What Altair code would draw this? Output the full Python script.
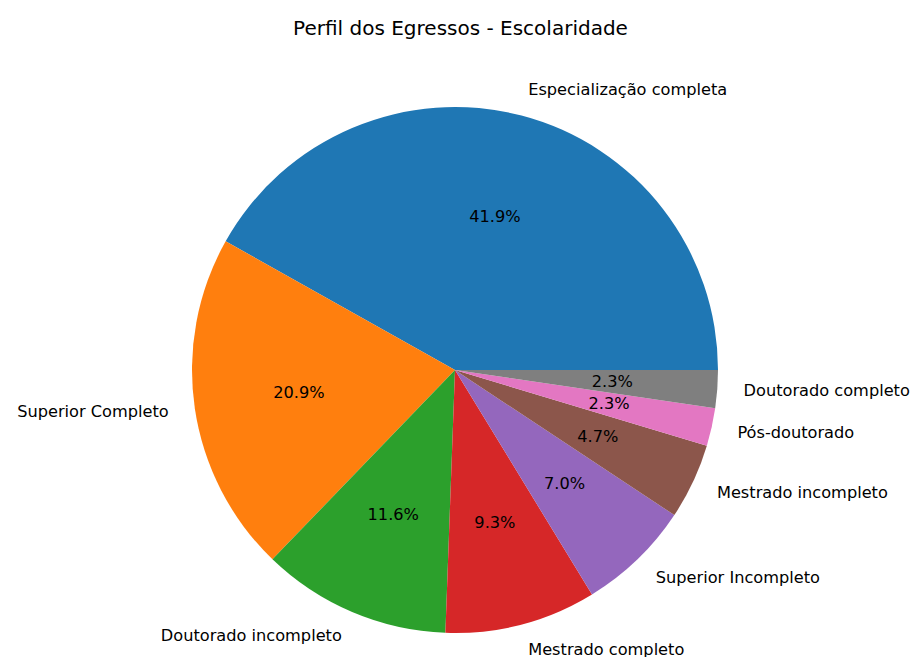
import math
import altair as alt
import pandas as pd

categorias = [
    "Especialização completa",
    "Superior Completo",
    "Doutorado incompleto",
    "Mestrado completo",
    "Superior Incompleto",
    "Mestrado incompleto",
    "Pós-doutorado",
    "Doutorado completo",
]
contagens = [18, 9, 5, 4, 3, 2, 1, 1]
cores = ["#1f77b4", "#ff7f0e", "#2ca02c", "#d62728",
         "#9467bd", "#8c564b", "#e377c2", "#7f7f7f"]

df = pd.DataFrame({"categoria": categorias, "n": contagens,
                   "ordem": list(range(len(categorias)))})

R = 263
CX, CY = 447, 362
FONT = "DejaVu Sans"
FS = 16.2

base = (
    alt.Chart(df)
    .transform_window(cum="sum(n)", sort=[alt.SortField("ordem")])
    .transform_joinaggregate(total="sum(n)")
    .transform_calculate(
        start="(datum.cum - datum.n) / datum.total",
        end="datum.cum / datum.total",
        mid="(datum.cum - datum.n / 2) / datum.total",
        pct="format(datum.n / datum.total * 100, '.1f') + '%'",
    )
)

theta_scale = alt.Scale(domain=[0, 1], range=[math.pi / 2, math.pi / 2 - 2 * math.pi])

arcs = base.mark_arc(radius=R).encode(
    theta=alt.Theta("start:Q", scale=theta_scale, stack=False),
    theta2="end:Q",
    color=alt.Color("categoria:N", scale=alt.Scale(domain=categorias, range=cores), legend=None),
    x=alt.value(CX),
    y=alt.value(CY),
)

pcts = base.mark_text(radius=0.6 * R, font=FONT, fontSize=FS, color="black",
                      align="center", baseline="middle").encode(
    theta=alt.Theta("mid:Q", scale=theta_scale, stack=False),
    text="pct:N",
    x=alt.value(CX),
    y=alt.value(CY),
)

labels_right = base.transform_filter("cos(2 * PI * datum.mid) >= 0").mark_text(
    radius=1.1 * R, font=FONT, fontSize=FS, color="black",
    align="left", baseline="middle").encode(
    theta=alt.Theta("mid:Q", scale=theta_scale, stack=False),
    text="categoria:N",
    x=alt.value(CX),
    y=alt.value(CY),
)

labels_left = base.transform_filter("cos(2 * PI * datum.mid) < 0").mark_text(
    radius=1.1 * R, font=FONT, fontSize=FS, color="black",
    align="right", baseline="middle").encode(
    theta=alt.Theta("mid:Q", scale=theta_scale, stack=False),
    text="categoria:N",
    x=alt.value(CX),
    y=alt.value(CY),
)

chart = (
    alt.layer(arcs, pcts, labels_right, labels_left)
    .properties(
        width=905,
        height=649,
        padding=0,
        autosize=alt.AutoSizeParams(type="none"),
        title=alt.TitleParams("Perfil dos Egressos - Escolaridade", font=FONT,
                              fontSize=20, fontWeight="normal", color="black",
                              anchor="middle", offset=-31),
    )
    .configure_view(stroke=None)
)

chart.save("out.html", embed_options={"renderer": "svg", "actions": False})
